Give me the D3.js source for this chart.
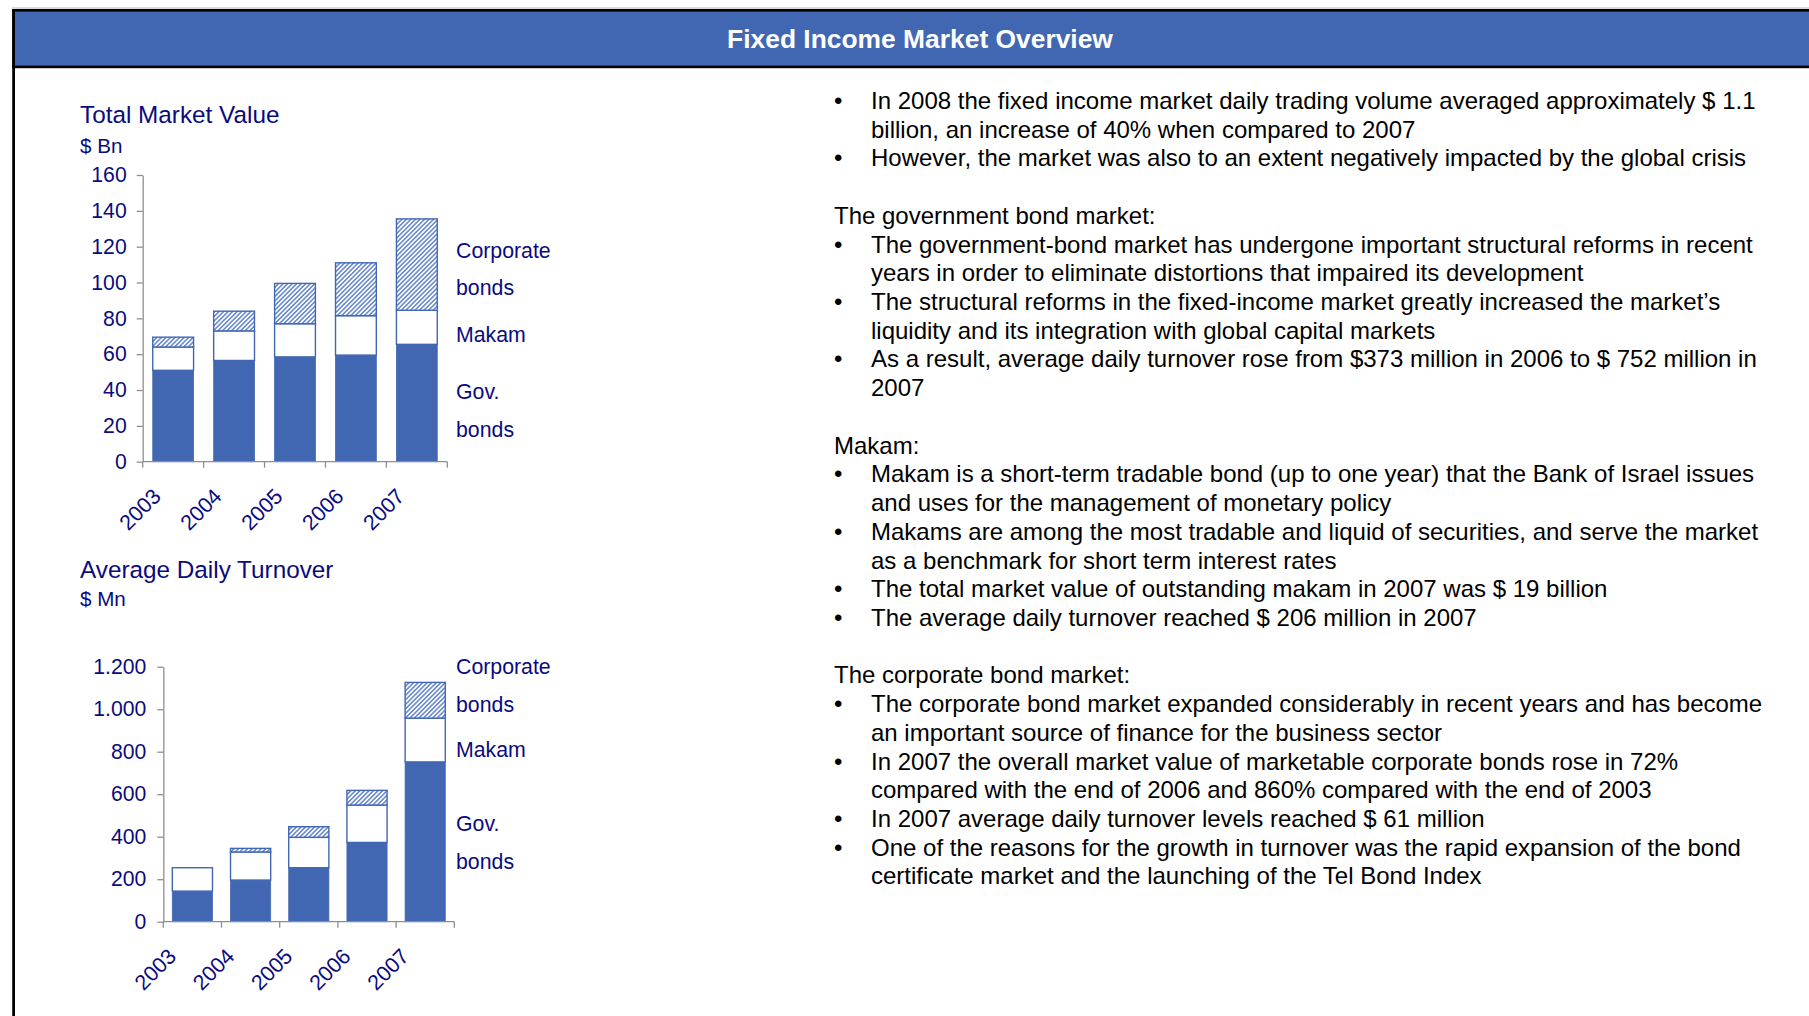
<!DOCTYPE html>
<html>
<head>
<meta charset="utf-8">
<script src="https://cdn.jsdelivr.net/npm/d3@7"></script>
<style>
  html, body { margin: 0; padding: 0; background: #fff; }
  svg { display: block; font-family: "Liberation Sans", Arial, sans-serif; }
</style>
</head>
<body>
<svg id="page" width="1809" height="1016"></svg>
<script>
// Categories and series (market value in $ Bn, turnover in $ Mn)
const years = ["2003", "2004", "2005", "2006", "2007"];
const seriesKeys = ["gov", "makam", "corp"];

const valueGov   = [51, 56.5, 58.5, 59.5, 65.5];
const valueMakam = [13, 16.5, 18.5, 22, 19];
const valueCorp  = [5.5, 11, 22.5, 29.5, 51];

const turnoverGov   = [144, 196, 254, 373, 752];
const turnoverMakam = [110, 132, 143, 176, 206];
const turnoverCorp  = [0, 17, 50, 69, 168];

const valueTicks    = [0, 20, 40, 60, 80, 100, 120, 140, 160];
const turnoverTicks = [0, 200, 400, 600, 800, 1000, 1200];

const seriesLabels = [
  { text: "Corporate", slot: 0 },
  { text: "bonds", slot: 1 },
  { text: "Makam", slot: 2 },
  { text: "Gov.", slot: 3 },
  { text: "bonds", slot: 4 }
];

// Commentary column: [kind, text] — "b" bullet start, "c" continuation, "h" heading, "" blank
const notes = [
  ["b", "In 2008 the fixed income market daily trading volume averaged approximately $ 1.1"],
  ["c", "billion, an increase of 40% when compared to 2007"],
  ["b", "However, the market was also to an extent negatively impacted by the global crisis"],
  ["", ""],
  ["h", "The government bond market:"],
  ["b", "The government-bond market has undergone important structural reforms in recent"],
  ["c", "years in order to eliminate distortions that impaired its development"],
  ["b", "The structural reforms in the fixed-income market greatly increased the market\u2019s"],
  ["c", "liquidity and its integration with global capital markets"],
  ["b", "As a result, average daily turnover rose from $373 million in 2006 to $ 752 million in"],
  ["c", "2007"],
  ["", ""],
  ["h", "Makam:"],
  ["b", "Makam is a short-term tradable bond (up to one year) that the Bank of Israel issues"],
  ["c", "and uses for the management of monetary policy"],
  ["b", "Makams are among the most tradable and liquid of securities, and serve the market"],
  ["c", "as a benchmark for short term interest rates"],
  ["b", "The total market value of outstanding makam in 2007 was $ 19 billion"],
  ["b", "The average daily turnover reached $ 206 million in 2007"],
  ["", ""],
  ["h", "The corporate bond market:"],
  ["b", "The corporate bond market expanded considerably in recent years and has become"],
  ["c", "an important source of finance for the business sector"],
  ["b", "In 2007 the overall market value of marketable corporate bonds rose in 72%"],
  ["c", "compared with the end of 2006 and 860% compared with the end of 2003"],
  ["b", "In 2007 average daily turnover levels reached $ 61 million"],
  ["b", "One of the reasons for the growth in turnover was the rapid expansion of the bond"],
  ["c", "certificate market and the launching of the Tel Bond Index"]
];

const BLUE = "#4267b2";
const NAVY = "#0b0b7d";
const AXIS = "#8f8f8f";

const svg = d3.select("#page");
svg.append("rect").attr("width", 1809).attr("height", 1016).attr("fill", "#fff");

// Hatch for corporate bonds
const defs = svg.append("defs");
const pat = defs.append("pattern")
  .attr("id", "hatch")
  .attr("patternUnits", "userSpaceOnUse")
  .attr("width", 3.2).attr("height", 3.2)
  .attr("patternTransform", "rotate(45)");
pat.append("rect").attr("width", 3.2).attr("height", 3.2).attr("fill", "#fff");
pat.append("line").attr("x1", 0.8).attr("y1", 0).attr("x2", 0.8).attr("y2", 3.2)
  .attr("stroke", "#4a72c4").attr("stroke-width", 1.3);

// Header band and frame
svg.append("line").attr("x1", 12).attr("x2", 1809).attr("y1", 8).attr("y2", 8)
  .attr("stroke", "#b5b5b5").attr("stroke-width", 1);
svg.append("rect")
  .attr("x", 13.6).attr("y", 10.3).attr("width", 1820).attr("height", 56.6)
  .attr("fill", BLUE).attr("stroke", "#000").attr("stroke-width", 2.6);
svg.append("line").attr("x1", 13.6).attr("x2", 13.6).attr("y1", 9).attr("y2", 1016)
  .attr("stroke", "#000").attr("stroke-width", 2.8);
svg.append("text")
  .attr("x", 920).attr("y", 48)
  .attr("text-anchor", "middle")
  .attr("fill", "#fff").attr("font-weight", "bold").attr("font-size", 26.4)
  .text("Fixed Income Market Overview");

const dotLocale = d3.formatLocale({ decimal: ",", thousands: ".", grouping: [3], currency: ["$", ""] });

function stackedChart(cfg) {
  const g = svg.append("g");
  const rows = years.map((yr, i) => ({ year: yr, gov: cfg.gov[i], makam: cfg.makam[i], corp: cfg.corp[i] }));
  const stacked = d3.stack().keys(seriesKeys)(rows);

  const x = d3.scaleBand().domain(years).range(cfg.xRange)
    .paddingInner(cfg.pad).paddingOuter(cfg.pad / 2);
  const y = d3.scaleLinear().domain([0, cfg.ticks[cfg.ticks.length - 1]]).range(cfg.yRange);

  // Titles
  g.append("text").attr("x", cfg.titleX).attr("y", cfg.titleY)
    .attr("fill", NAVY).attr("font-size", 24.3).text(cfg.title);
  g.append("text").attr("x", cfg.titleX).attr("y", cfg.unitY)
    .attr("fill", NAVY).attr("font-size", 20.6).text(cfg.unit);

  // Bars
  const fills = { gov: BLUE, makam: "#fff", corp: "url(#hatch)" };
  stacked.forEach(layer => {
    g.append("g").selectAll("rect")
      .data(layer.filter(d => d[1] - d[0] > 0))
      .join("rect")
      .attr("x", d => x(d.data.year))
      .attr("width", x.bandwidth())
      .attr("y", d => y(d[1]))
      .attr("height", d => y(d[0]) - y(d[1]))
      .attr("fill", fills[layer.key])
      .attr("stroke", BLUE)
      .attr("stroke-width", layer.key === "gov" ? 0.8 : 1.4);
  });

  // Y axis
  const yAxis = d3.axisLeft(y).tickValues(cfg.ticks).tickSize(6).tickSizeOuter(0)
    .tickPadding(cfg.tickPad).tickFormat(cfg.fmt);
  const ya = g.append("g").attr("transform", `translate(${cfg.xRange[0]},0)`).call(yAxis);
  ya.select(".domain").attr("stroke", AXIS).attr("stroke-width", 1.3);
  ya.selectAll(".tick line").attr("stroke", AXIS).attr("stroke-width", 1.3);
  ya.selectAll(".tick text").attr("fill", NAVY).attr("font-size", 21.2)
    .attr("font-family", "Liberation Sans, Arial, sans-serif");

  // X axis with ticks on category boundaries
  const y0 = y(0);
  g.append("line").attr("x1", cfg.xRange[0]).attr("x2", cfg.xRange[1])
    .attr("y1", y0).attr("y2", y0).attr("stroke", AXIS).attr("stroke-width", 1.3);
  const bounds = d3.range(years.length + 1).map(i => cfg.xRange[0] + i * x.step());
  g.append("g").selectAll("line").data(bounds).join("line")
    .attr("x1", d => d).attr("x2", d => d)
    .attr("y1", y0).attr("y2", y0 + 6)
    .attr("stroke", AXIS).attr("stroke-width", 1.3);
  g.append("g").selectAll("text").data(years).join("text")
    .attr("transform", d => `translate(${x(d) + x.bandwidth() / 2 + cfg.labelDx},${y0 + 36}) rotate(-45)`)
    .attr("text-anchor", "end")
    .attr("fill", NAVY).attr("font-size", 21.5)
    .text(d => d);

  // Series names to the right of the bars
  g.append("g").selectAll("text").data(seriesLabels).join("text")
    .attr("x", 456)
    .attr("y", d => cfg.labelY[d.slot])
    .attr("fill", NAVY).attr("font-size", 21.3)
    .text(d => d.text);
}

stackedChart({
  title: "Total Market Value", unit: "$ Bn",
  titleX: 80, titleY: 122.5, unitY: 152.5,
  gov: valueGov, makam: valueMakam, corp: valueCorp,
  ticks: valueTicks, fmt: d3.format("d"),
  xRange: [142.7, 447.3], yRange: [461.7, 175], pad: 0.33, tickPad: 10,
  labelDx: -11,
  labelY: [257.5, 295, 342, 398.5, 437]
});

stackedChart({
  title: "Average Daily Turnover", unit: "$ Mn",
  titleX: 80, titleY: 578, unitY: 606,
  gov: turnoverGov, makam: turnoverMakam, corp: turnoverCorp,
  ticks: turnoverTicks, fmt: dotLocale.format(",d"),
  xRange: [163.3, 454.3], yRange: [921.7, 666.7], pad: 0.31, tickPad: 11,
  labelDx: -15,
  labelY: [674, 712, 756.5, 830.5, 869]
});

// Commentary text
const LINE0 = 109, LEAD = 28.72;
const tg = svg.append("g").attr("font-size", 24).attr("fill", "#000");
notes.forEach((n, k) => {
  const yy = LINE0 + k * LEAD;
  if (n[0] === "b") {
    tg.append("text").attr("x", 834).attr("y", yy).text("\u2022");
  }
  if (n[0] === "b" || n[0] === "c") {
    tg.append("text").attr("x", 871).attr("y", yy).text(n[1]);
  } else if (n[0] === "h") {
    tg.append("text").attr("x", 834).attr("y", yy).text(n[1]);
  }
});
</script>
</body>
</html>
